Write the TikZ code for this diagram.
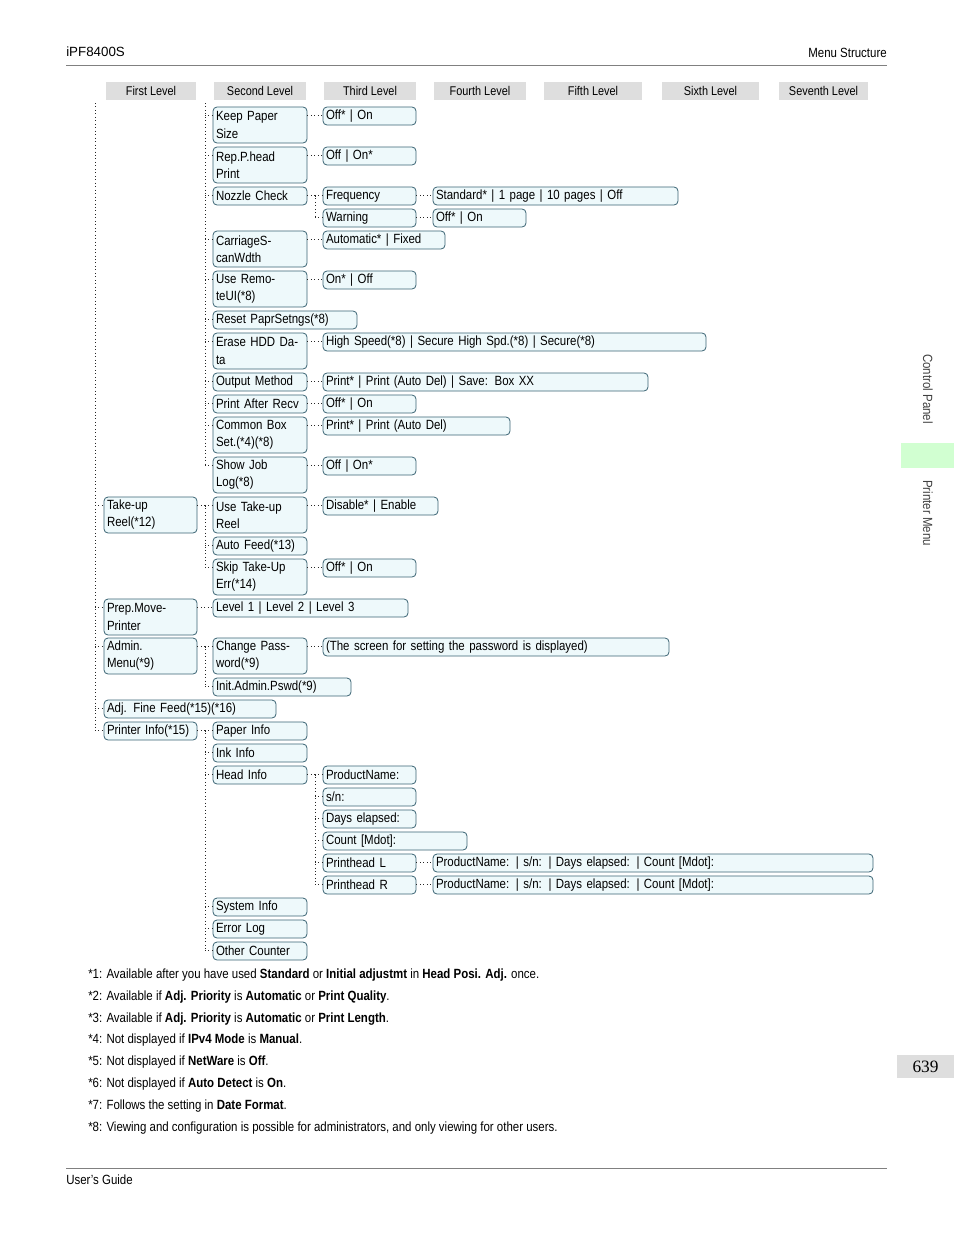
\documentclass[tikz,border=0pt]{standalone}
\usepackage{fontspec}
\setmainfont{Liberation Sans}[FakeStretch=0.86]
\newfontfamily\plainsans{Liberation Sans}
\newfontfamily\numfont{Liberation Serif}
\begin{document}
\begin{tikzpicture}[x=0.75pt,y=-0.75pt,
 bx/.style={draw=boxline,fill=boxfill,rounded corners=3pt,line width=0.6pt,inner sep=0pt,align=left,font=\fontsize{10}{12.8}\selectfont},
 hd/.style={fill=hdgray,inner sep=0pt,font=\fontsize{9.5}{11}\selectfont},
 dl/.style={dotted,line width=0.6pt,black!85},
 fn/.style={anchor=west,inner sep=0pt,font=\fontsize{10}{12}\selectfont}]
\definecolor{boxline}{HTML}{3A6373}
\definecolor{boxfill}{HTML}{EEF9FB}
\definecolor{hdgray}{HTML}{DEDEDE}
\useasboundingbox (0,0) rectangle (954,1235);
\newcommand\B[6]{%
 \node[bx,minimum width={(#4-#2)*0.75pt},minimum height={(#5-#3)*0.75pt},text width={(#4-#2)*0.75pt-4.5pt}] (#1) at ({(#2+#4)/2},{(#3+#5)/2}) {#6};
 \coordinate (#1-w) at ([yshift=-6.75pt]#1.north west);
 \coordinate (#1-e) at ([yshift=-6.75pt]#1.north east);}
\newcommand\Hd[4]{\node[hd,minimum width={(#3-#2)*0.75pt},minimum height=13.5pt] (#1) at ({(#2+#3)/2},91) {#4};}
% page header/footer
\node[anchor=west,inner sep=0pt,font=\plainsans\fontsize{10}{12}\selectfont] (ttl) at (66,52) {iPF8400S};
\node[anchor=east,inner sep=0pt,font=\fontsize{10}{12}\selectfont] (ms) at (887,53) {Menu Structure};
\draw[gray,line width=0.6pt] (66,65) -- (887,65);
\draw[gray,line width=0.6pt] (66,1168) -- (887,1168);
\node[anchor=west,inner sep=0pt,font=\fontsize{10}{12}\selectfont] (ug) at (66,1180) {User's Guide};
\fill[green!18] (901,443) rectangle (954,468);
\node[rotate=-90,anchor=west,inner sep=0pt,font=\fontsize{10}{12}\selectfont,text=black!75] (cp) at (928,354) {Control Panel};
\node[rotate=-90,anchor=west,inner sep=0pt,font=\fontsize{10}{12}\selectfont,text=black!75] (pm) at (928,480) {Printer Menu};
\node[fill=hdgray,minimum width=42.75pt,minimum height=17pt,inner sep=0pt,font=\numfont\fontsize{13}{14}\selectfont] (pg) at (925.5,1066.5) {639};
% headers
\Hd{h1}{106}{196}{First Level}
\Hd{h2}{214}{306}{Second Level}
\Hd{h3}{324}{416}{Third Level}
\Hd{h4}{434}{526}{Fourth Level}
\Hd{h5}{544}{642}{Fifth Level}
\Hd{h6}{662}{759}{Sixth Level}
\Hd{h7}{779}{868}{Seventh Level}
% boxes
\B{kp}{213}{107}{307}{143}{Keep Paper\\Size}
\B{kp3}{323}{107}{416}{125}{Off* | On}
\B{rp}{213}{147}{307}{183}{Rep.P.head\\Print}
\B{rp3}{323}{147}{416}{165}{Off | On*}
\B{nc}{213}{187}{307}{205}{Nozzle Check}
\B{fq}{323}{187}{416}{205}{Frequency}
\B{fq4}{433}{187}{678}{205}{Standard* | 1 page | 10 pages | Off}
\B{wn}{323}{209}{416}{227}{Warning}
\B{wn4}{433}{209}{526}{227}{Off* | On}
\B{cs}{213}{231}{307}{267}{CarriageS-\\canWdth}
\B{cs3}{323}{231}{445}{249}{Automatic* | Fixed}
\B{ur}{213}{271}{307}{307}{Use Remo-\\teUI(*8)}
\B{ur3}{323}{271}{416}{289}{On* | Off}
\B{rs}{213}{311}{357}{329}{Reset PaprSetngs(*8)}
\B{eh}{213}{333}{307}{369}{Erase HDD Da-\\ta}
\B{eh3}{323}{333}{706}{351}{High Speed(*8) | Secure High Spd.(*8) | Secure(*8)}
\B{om}{213}{373}{307}{391}{Output Method}
\B{om3}{323}{373}{648}{391}{Print* | Print (Auto Del) | Save: Box XX}
\B{pa}{213}{395}{307}{413}{Print After Recv}
\B{pa3}{323}{395}{416}{413}{Off* | On}
\B{cb}{213}{417}{307}{453}{Common Box\\Set.(*4)(*8)}
\B{cb3}{323}{417}{510}{435}{Print* | Print (Auto Del)}
\B{sj}{213}{457}{307}{493}{Show Job\\Log(*8)}
\B{sj3}{323}{457}{416}{475}{Off | On*}
\B{tr}{104}{497}{197}{533}{Take-up\\Reel(*12)}
\B{ut}{213}{497}{307}{533}{Use Take-up\\Reel}
\B{ut3}{323}{497}{438}{515}{Disable* | Enable}
\B{af}{213}{537}{307}{555}{Auto Feed(*13)}
\B{sk}{213}{559}{307}{595}{Skip Take-Up\\Err(*14)}
\B{sk3}{323}{559}{416}{577}{Off* | On}
\B{pp}{104}{599}{197}{635}{Prep.Move-\\Printer}
\B{pp2}{213}{599}{408}{617}{Level 1 | Level 2 | Level 3}
\B{am}{104}{638}{197}{674}{Admin.\\Menu(*9)}
\B{cp2}{213}{638}{307}{674}{Change Pass-\\word(*9)}
\B{cp3}{323}{638}{669}{656}{(The screen for setting the password is displayed)}
\B{ia}{213}{678}{351}{696}{Init.Admin.Pswd(*9)}
\B{ff}{104}{700}{276}{718}{Adj. Fine Feed(*15)(*16)}
\B{pi}{104}{722}{197}{740}{Printer Info(*15)}
\B{pq}{213}{722}{307}{740}{Paper Info}
\B{ii}{213}{744}{307}{762}{Ink Info}
\B{hi}{213}{766}{307}{784}{Head Info}
\B{pn}{323}{766}{416}{784}{ProductName:}
\B{sn}{323}{788}{416}{806}{s/n:}
\B{de}{323}{810}{416}{828}{Days elapsed:}
\B{cm}{323}{832}{467}{850}{Count [Mdot]:}
\B{pl}{323}{854}{416}{872}{Printhead L}
\B{pl4}{433}{854}{873}{872}{ProductName: | s/n: | Days elapsed: | Count [Mdot]:}
\B{pr}{323}{876}{416}{894}{Printhead R}
\B{pr4}{433}{876}{873}{894}{ProductName: | s/n: | Days elapsed: | Count [Mdot]:}
\B{si}{213}{898}{307}{916}{System Info}
\B{el}{213}{920}{307}{938}{Error Log}
\B{oc}{213}{942}{307}{960}{Other Counter}
% connectors
\newcommand\Tk[2]{\draw[dl] (#1,0 |- #2-w) -- (#2-w);}
\newcommand\Hz[2]{\draw[dl] (#1-e) -- (#2-w);}
\newcommand\Tp[3]{\draw[dl] (#2-e) -- (#1,0 |- #2-e) -- (#1,0 |- #3-w);}
\coordinate (t1) at (95,103);
\draw[dl] (t1) -- (95,0 |- pi-w);
\foreach \c in {tr,pp,am,ff,pi} {\Tk{95}{\c}}
\coordinate (t2) at (205,103);
\draw[dl] (t2) -- (205,0 |- sj-w);
\foreach \c in {kp,rp,nc,cs,ur,rs,eh,om,pa,cb,sj} {\Tk{205}{\c}}
\foreach \p/\c in {kp/kp3,rp/rp3,cs/cs3,ur/ur3,eh/eh3,om/om3,pa/pa3,cb/cb3,sj/sj3,ut/ut3,sk/sk3,pp/pp2,cp2/cp3,fq/fq4,wn/wn4,pl/pl4,pr/pr4} {\Hz{\p}{\c}}
\Tp{315}{nc}{wn} \foreach \c in {fq,wn} {\Tk{315}{\c}}
\Tp{205}{tr}{sk} \foreach \c in {ut,af,sk} {\Tk{205}{\c}}
\Tp{205}{am}{ia} \foreach \c in {cp2,ia} {\Tk{205}{\c}}
\Tp{205}{pi}{oc} \foreach \c in {pq,ii,hi,si,el,oc} {\Tk{205}{\c}}
\Tp{315}{hi}{pr} \foreach \c in {pn,sn,de,cm,pl,pr} {\Tk{315}{\c}}
% footnotes
\node[fn] (f1) at (88,975) {*1: Available after you have used \textbf{Standard} or \textbf{Initial adjustmt} in \textbf{Head Posi. Adj.} once.};
\node[fn] (f2) at (88,997) {*2: Available if \textbf{Adj. Priority} is \textbf{Automatic} or \textbf{Print Quality}.};
\node[fn] (f3) at (88,1019) {*3: Available if \textbf{Adj. Priority} is \textbf{Automatic} or \textbf{Print Length}.};
\node[fn] (f4) at (88,1040) {*4: Not displayed if \textbf{IPv4 Mode} is \textbf{Manual}.};
\node[fn] (f5) at (88,1062) {*5: Not displayed if \textbf{NetWare} is \textbf{Off}.};
\node[fn] (f6) at (88,1084) {*6: Not displayed if \textbf{Auto Detect} is \textbf{On}.};
\node[fn] (f7) at (88,1106) {*7: Follows the setting in \textbf{Date Format}.};
\node[fn] (f8) at (88,1128) {*8: Viewing and configuration is possible for administrators, and only viewing for other users.};
\end{tikzpicture}
\end{document}
